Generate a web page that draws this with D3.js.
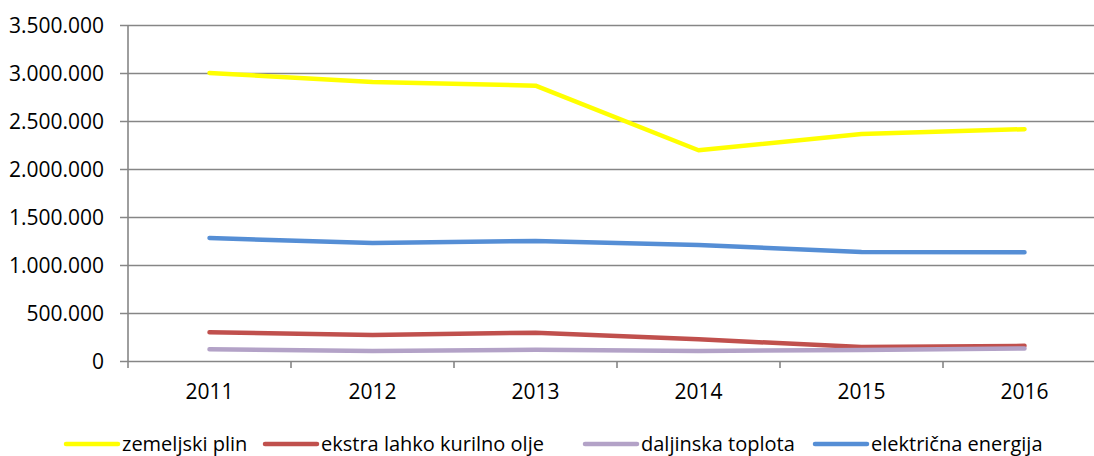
<!DOCTYPE html>
<html lang="sl">
<head>
<meta charset="UTF-8">
<title>Poraba energije</title>
<script src="https://cdn.jsdelivr.net/npm/d3@7"></script>
<style>
    body { margin: 0; background: #fff; }
    svg { display: block; }
    .chart text { font-family: "Open Sans", sans-serif; fill: #000; }
    .axis path, .axis line { stroke: #868686; }
</style>
</head>
<body>
<svg class="chart" width="1094" height="456"></svg>
<script>
    let years = ['2011', '2012', '2013', '2014', '2015', '2016'];
    let zemeljskiPlin = [3000000, 2905000, 2868000, 2195000, 2365000, 2415000];
    let ekstraLahko = [299000, 270000, 295000, 226000, 146000, 158000];
    let daljinska = [122000, 104000, 118000, 104000, 115000, 130000];
    let elektricna = [1281000, 1229000, 1250000, 1208000, 1135000, 1132000];
    let yTicks = [0, 500000, 1000000, 1500000, 2000000, 2500000, 3000000, 3500000];

    let seriesNames = ['zemeljski plin', 'ekstra lahko kurilno olje', 'daljinska toplota', 'električna energija'];
    let seriesColors = ['#ffff00', '#c0504d', '#b3a2c7', '#558ed5'];
    let seriesData = [zemeljskiPlin, ekstraLahko, daljinska, elektricna];

    let plotL = 128, plotR = 1106, plotT = 25, plotB = 361;
    let legendX = [66, 265, 585, 815];

    let svg = d3.select('.chart');

    let fmt = d3.formatLocale({decimal: ',', thousands: '.', grouping: [3], currency: ['', '']}).format(',d');

    let x = d3.scaleBand().domain(years).range([plotL, plotR]).padding(0);
    let y = d3.scaleLinear().domain([0, 3500000]).range([plotB, plotT]);

    // gridlines + y axis
    let yAxis = svg.append('g')
        .attr('class', 'axis')
        .attr('transform', 'translate(' + plotL + ',0)')
        .call(d3.axisLeft(y).tickValues(yTicks).tickFormat(fmt).tickSize(8).tickPadding(16));
    yAxis.select('.domain').remove();
    yAxis.selectAll('.tick line')
        .attr('x1', -8).attr('x2', plotR - plotL)
        .attr('stroke-width', 1.6);
    yAxis.selectAll('.tick text').attr('font-size', 21).attr('dy', '0.36em');

    svg.append('line')
        .attr('x1', plotL).attr('x2', plotL)
        .attr('y1', plotT).attr('y2', plotB + 7)
        .attr('stroke', '#868686').attr('stroke-width', 1.6);

    // x axis
    let xAxis = svg.append('g')
        .attr('class', 'axis')
        .attr('transform', 'translate(0,' + plotB + ')')
        .call(d3.axisBottom(x).tickSize(0));
    xAxis.select('.domain').remove();
    xAxis.selectAll('.tick text').attr('font-size', 21).attr('y', 38).attr('dy', 0);
    xAxis.selectAll('.sep')
        .data(years.slice(1))
        .enter().append('line')
        .attr('class', 'sep')
        .attr('x1', d => x(d)).attr('x2', d => x(d))
        .attr('y1', 0).attr('y2', 7)
        .attr('stroke', '#868686').attr('stroke-width', 1.6);

    // lines
    let line = d3.line()
        .x((d, i) => x(years[i]) + x.bandwidth() / 2)
        .y(d => y(d));

    svg.append('g').selectAll('path')
        .data(seriesData)
        .enter().append('path')
        .attr('d', d => line(d))
        .attr('fill', 'none')
        .attr('stroke', (d, i) => seriesColors[i])
        .attr('stroke-width', 4.5)
        .attr('stroke-linejoin', 'round')
        .attr('stroke-linecap', 'round');

    // legend
    let legend = svg.append('g').attr('transform', 'translate(0,444)');
    let item = legend.selectAll('g')
        .data(seriesNames)
        .enter().append('g')
        .attr('transform', (d, i) => 'translate(' + legendX[i] + ',0)');
    item.append('line')
        .attr('x1', 0).attr('x2', 52)
        .attr('stroke', (d, i) => seriesColors[i])
        .attr('stroke-width', 4.5)
        .attr('stroke-linecap', 'round');
    item.append('text')
        .attr('x', 56)
        .attr('dy', '0.36em')
        .attr('font-size', 20)
        .text(d => d);
</script>
</body>
</html>
